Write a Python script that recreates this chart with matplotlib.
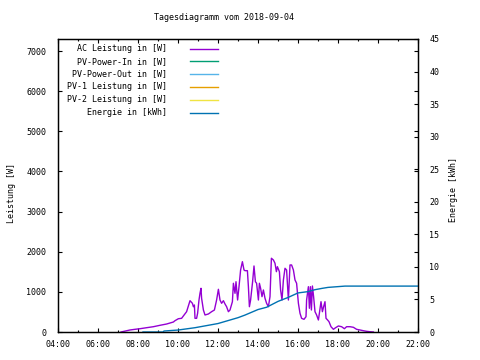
import matplotlib
matplotlib.use("Agg")
import matplotlib.pyplot as plt
from matplotlib.lines import Line2D
from matplotlib.ticker import MultipleLocator, FuncFormatter

plt.rcParams['font.family'] = ['DejaVu Sans Mono']
plt.rcParams['font.size'] = 6

# AC Leistung [W] over time of day (hours)
ac_hours = [7.15, 7.60, 7.85, 8.10, 8.43, 8.77, 9.10, 9.43, 9.77, 9.85, 10.02, 10.18, 10.43,
            10.60, 10.72, 10.77, 10.82, 10.85, 10.93, 10.98, 11.05, 11.10, 11.15, 11.18, 11.27,
            11.35, 11.52, 11.68, 11.82, 11.93, 12.02, 12.10, 12.18, 12.27, 12.35, 12.43, 12.52,
            12.60, 12.72, 12.77, 12.85, 12.90, 12.98, 13.05, 13.13, 13.22, 13.30, 13.35, 13.47,
            13.52, 13.57, 13.63, 13.73, 13.80, 13.87, 13.93, 14.02, 14.07, 14.13, 14.20, 14.27,
            14.35, 14.43, 14.52, 14.60, 14.67, 14.77, 14.85, 14.92, 14.97, 15.07, 15.13, 15.20,
            15.27, 15.35, 15.43, 15.52, 15.60, 15.68, 15.77, 15.85, 15.93, 16.02, 16.10, 16.18,
            16.30, 16.40, 16.43, 16.52, 16.57, 16.62, 16.67, 16.72, 16.78, 16.85, 16.93, 17.02,
            17.08, 17.15, 17.22, 17.28, 17.35, 17.40, 17.48, 17.55, 17.65, 17.77, 17.88, 18.02,
            18.18, 18.32, 18.43, 18.60, 18.77, 18.93, 19.10, 19.27, 19.43, 19.60, 19.77]
ac_watts = [0, 50, 67, 82, 107, 132, 167, 199, 249, 282, 331, 341, 506,
            780, 715, 630, 673, 341, 341, 466, 797, 964, 1089, 840, 548,
            424, 449, 506, 548, 797, 1064, 797, 715, 780, 698, 630, 506,
            548, 755, 1214, 964, 1253, 797, 1129, 1545, 1752, 1545, 1528, 1528,
            1129, 630, 797, 1253, 1645, 1253, 1214, 797, 1214, 1089, 880, 1047,
            840, 715, 630, 880, 1837, 1794, 1712, 1503, 1627, 1503, 1047, 797,
            1296, 1587, 1545, 797, 1670, 1670, 1545, 1296, 1214, 715, 466, 341,
            316, 381, 797, 1129, 591, 1129, 548, 1146, 880, 506, 424, 299,
            506, 755, 506, 630, 755, 341, 299, 257, 132, 67, 107, 150,
            132, 82, 132, 132, 117, 67, 50, 32, 17, 7, 0]

# Energie [kWh] cumulative
en_hours = [8.25, 9.25, 9.30, 10.0, 10.85, 12.0, 13.0, 13.35, 14.0, 14.43, 15.0, 15.5,
            16.0, 16.5, 16.85, 17.2, 17.5, 18.35, 22.0]
en_kwh = [0.0, 0.0, 0.15, 0.3, 0.66, 1.3, 2.2, 2.6, 3.45, 3.8, 4.7, 5.3,
          6.0, 6.2, 6.5, 6.7, 6.85, 7.05, 7.05]

legend_names = ["AC Leistung in [W]", "PV-Power-In in [W]", "PV-Power-Out in [W]",
                "PV-1 Leistung in [W]", "PV-2 Leistung in [W]", "Energie in [kWh]"]
legend_colors = ["#9400d3", "#009e73", "#56b4e9", "#e69f00", "#f0e442", "#0072b2"]

W, H = 480, 360
fig = plt.figure(figsize=(4.8, 3.6), dpi=100)
ax = fig.add_axes([58 / W, 28 / H, 360 / W, 293 / H])
ax2 = ax.twinx()

ax.plot(ac_hours, ac_watts, color=legend_colors[0], lw=1.0)
ax2.plot(en_hours, en_kwh, color=legend_colors[5], lw=1.0)

ax.set_xlim(4, 22)
ax.set_ylim(0, 7300)
ax2.set_ylim(0, 45)
ax.xaxis.set_major_locator(MultipleLocator(2))
ax.xaxis.set_minor_locator(MultipleLocator(1))
ax.xaxis.set_major_formatter(FuncFormatter(lambda v, p: "%02d:00" % int(round(v))))
ax.yaxis.set_major_locator(MultipleLocator(1000))
ax2.yaxis.set_major_locator(MultipleLocator(5))

ax.tick_params(axis='x', which='major', direction='in', length=3, width=0.8, pad=5.5, top=True)
ax.tick_params(axis='x', which='minor', direction='in', length=1.5, width=0.8, top=True)
ax.tick_params(axis='y', direction='in', length=3, width=0.8, pad=8.5, right=True)
ax2.tick_params(axis='y', direction='in', length=3, width=0.8, pad=8)
for a in (ax, ax2):
    for s in a.spines.values():
        s.set_linewidth(0.9)

fig.text(224 / W, 1 - 18 / H, "Tagesdiagramm vom 2018-09-04", ha='center', va='center')
fig.text(12 / W, 1 - 193 / H, "Leistung [W]", rotation=90, ha='center', va='center')
fig.text(453 / W, 1 - 190 / H, "Energie [kWh]", rotation=90, ha='center', va='center')

for i, (name, col) in enumerate(zip(legend_names, legend_colors)):
    y = 1 - (48.5 + 12.8 * i) / H
    fig.text(167 / W, y, name, ha='right', va='center')
    fig.add_artist(Line2D([190 / W, 218 / W], [y, y], color=col, lw=1.0))

fig.savefig("out.png", dpi=100)
